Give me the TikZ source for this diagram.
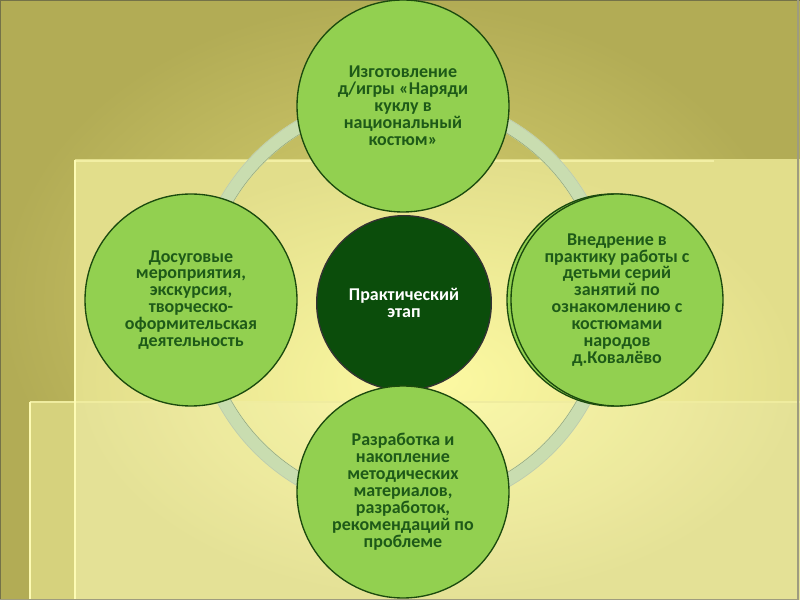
\documentclass[tikz,border=0pt]{standalone}
\usepackage{fontspec}
\setmainfont{Carlito}
\usepackage{xcolor}
\usepackage{tikz}

\definecolor{oliveDark}{HTML}{B2AC55}
\definecolor{oliveMid}{HTML}{DBD574}
\definecolor{panelIn}{HTML}{FCF9A2}
\definecolor{panelOut}{HTML}{E2DE8B}
\definecolor{edgeLight}{HTML}{FDFBB4}
\definecolor{frameGrey}{HTML}{747248}
\definecolor{ringGreen}{HTML}{C9DDB0}
\definecolor{ringEdge}{HTML}{8FA076}
\definecolor{petalGreen}{HTML}{92D050}
\definecolor{petalEdge}{HTML}{1B4A0E}
\definecolor{petalText}{HTML}{1E5A18}
\definecolor{hubGreen}{HTML}{0B4D0B}

\begin{document}
\begin{tikzpicture}[
    x=0.75pt, y=0.75pt,
    petal/.style={
        circle,
        draw=petalEdge,
        line width=1pt,
        fill=petalGreen,
        minimum size=159pt,
        inner sep=0pt,
        align=center,
        text=petalText,
        font=\fontsize{13.5}{12.7}\selectfont\bfseries
    },
    hub/.style={
        circle,
        draw=black!80,
        line width=1pt,
        fill=hubGreen,
        minimum size=131pt,
        inner sep=0pt,
        align=center,
        text=white,
        font=\fontsize{13.5}{12.7}\selectfont\bfseries
    },
    ring/.style={
        draw=ringGreen,
        line width=10.5pt
    }
]
\useasboundingbox (0,0) rectangle (800,600);

% Background
\shade [inner color=oliveMid, outer color=oliveDark] (0,0) rectangle (800,600);
\shade [inner color=panelIn, outer color=panelOut] (75,0) rectangle (800,440);
\fill [white, opacity=0.1] (30,0) rectangle (800,198);
\fill [panelOut!75!oliveDark] (30,0) rectangle (75,198);
\draw [edgeLight!60!panelOut, line width=2pt] (75,439) -- (714,439);
\draw [edgeLight!50!panelOut, line width=1.5pt] (30,198) -- (800,198);
\draw [edgeLight, line width=1.5pt] (75,440) -- (75,0);
\draw [edgeLight, line width=1.5pt] (30,198) -- (30,0);
\draw [frameGrey, line width=1.5pt] (0,0) -- (0,600) -- (800,600);
\draw [frameGrey!70, line width=1pt] (798,600) -- (798,0) -- (0,0);

% Ring
\draw [ring] (404,297) circle (205);
\draw [ringEdge, line width=0.3pt] (404,297) circle (198.5);
\draw [ringEdge!60, line width=0.3pt] (404,297) circle (211.5);

% Centre
\node (hubnode) [hub] at (404,297) {Практический\\этап};

% Petals
\node (top) [petal] at (403,494) {Изготовление\\д/игры «Наряди\\куклу в\\национальный\\костюм»};
\node (left) [petal] at (191,300) {Досуговые\\мероприятия,\\экскурсия,\\творческо-\\оформительская\\деятельность};
\draw [petalEdge, fill=petalGreen, line width=1pt] (613,300) circle (106);
\node (right) [petal] at (617,300) {Внедрение в\\практику работы с\\детьми серий\\занятий по\\ознакомлению с\\костюмами\\народов\\д.Ковалёво};
\node (bottom) [petal] at (403,108) {Разработка и\\накопление\\методических\\материалов,\\разработок,\\рекомендаций по\\проблеме};

\end{tikzpicture}
\end{document}
